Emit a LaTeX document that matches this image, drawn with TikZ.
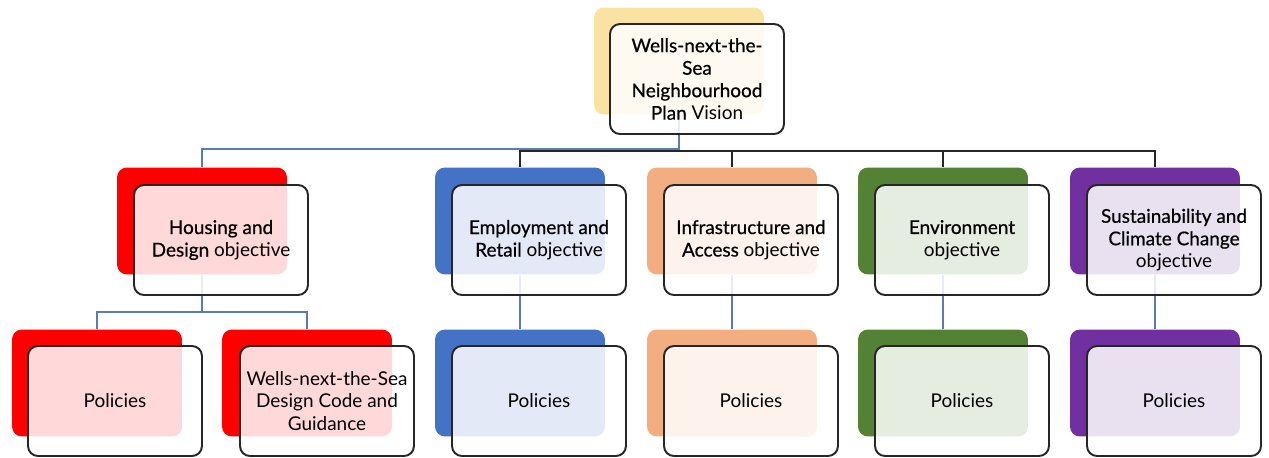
\documentclass[tikz,border=0pt]{standalone}
\usepackage{fontspec}
\setmainfont{Lato}
\newfontfamily\medfont{Lato}[FakeBold=0.6]
\newcommand{\md}[1]{{\medfont #1}}
\definecolor{visyel}{HTML}{FAE3A2}
\definecolor{hsred}{HTML}{FF0000}
\definecolor{empblue}{HTML}{4472C4}
\definecolor{accorange}{HTML}{F2AE80}
\definecolor{envgreen}{HTML}{548235}
\definecolor{suspurple}{HTML}{7030A0}
\definecolor{boxline}{HTML}{262626}
\definecolor{linkblue}{HTML}{5A7BB8}
\definecolor{linkdark}{HTML}{262626}
\begin{document}
\begin{tikzpicture}[x=0.02cm, y=-0.02cm, font=\fontsize{10.8}{12.8}\selectfont,
    backbox/.style={fill=#1, rounded corners=0.2cm, minimum width=3.4cm, minimum height=2.14cm, inner sep=0pt},
    frontbox/.style={draw=boxline, line width=1.1pt, rounded corners=0.2cm, fill=white, fill opacity=0.85, text opacity=1, minimum width=3.48cm, minimum height=2.2cm, align=center, inner sep=2pt},
    bluelink/.style={draw=linkblue, line width=0.7pt},
    darklink/.style={draw=linkdark, line width=1pt}]
    \useasboundingbox (0,0) rectangle (1269,457);

    \node[backbox=visyel] (visbk) at (679,61) {};
    \node[backbox=hsred] (hbk) at (202,221) {};
    \node[backbox=empblue] (ebk) at (520,221) {};
    \node[backbox=accorange] (abk) at (732,221) {};
    \node[backbox=envgreen] (nbk) at (943,221) {};
    \node[backbox=suspurple] (sbk) at (1155,221) {};
    \node[backbox=hsred] (hpbk) at (97,383) {};
    \node[backbox=hsred] (hdbk) at (307,383) {};
    \node[backbox=empblue] (epbk) at (520,383) {};
    \node[backbox=accorange] (apbk) at (732,383) {};
    \node[backbox=envgreen] (npbk) at (943,383) {};
    \node[backbox=suspurple] (spbk) at (1155,383) {};

    \coordinate (bus) at (679,149);
    \coordinate (busr) at (520,151);
    \coordinate (hbus) at (202,312);
    \draw[bluelink] (visbk.south) -- (bus) -| (hbk.north);
    \draw[darklink] (ebk.north) |- (sbk.north |- busr) -- (sbk.north);
    \draw[darklink] (abk.north) -- (abk.north |- busr);
    \draw[darklink] (nbk.north) -- (nbk.north |- busr);
    \draw[bluelink] (hbk.south) -- (hbus);
    \draw[bluelink] (hpbk.north) |- (hbus) -| (hdbk.north);
    \draw[bluelink] (ebk.south) -- (epbk.north);
    \draw[bluelink] (abk.south) -- (apbk.north);
    \draw[bluelink] (nbk.south) -- (npbk.north);
    \draw[bluelink] (sbk.south) -- (spbk.north);

    \node[frontbox] (visfr) at (697,79) {\md{Wells-next-the-}\\\md{Sea}\\\md{Neighbourhood}\\\md{Plan} Vision};
    \node[frontbox] (hfr) at (221,240) {\md{Housing and}\\\md{Design} objective};
    \node[frontbox] (efr) at (539,240) {\md{Employment and}\\\md{Retail} objective};
    \node[frontbox] (afr) at (751,240) {\md{Infrastructure and}\\\md{Access} objective};
    \node[frontbox] (nfr) at (962,240) {\md{Environment}\\objective};
    \node[frontbox] (sfr) at (1174,240) {\md{Sustainability and}\\\md{Climate Change}\\objective};
    \node[frontbox] (hpfr) at (115,401) {Policies};
    \node[frontbox] (hdfr) at (327,401) {Wells-next-the-Sea\\Design Code and\\Guidance};
    \node[frontbox] (epfr) at (539,401) {Policies};
    \node[frontbox] (apfr) at (751,401) {Policies};
    \node[frontbox] (npfr) at (962,401) {Policies};
    \node[frontbox] (spfr) at (1174,401) {Policies};
\end{tikzpicture}
\end{document}
